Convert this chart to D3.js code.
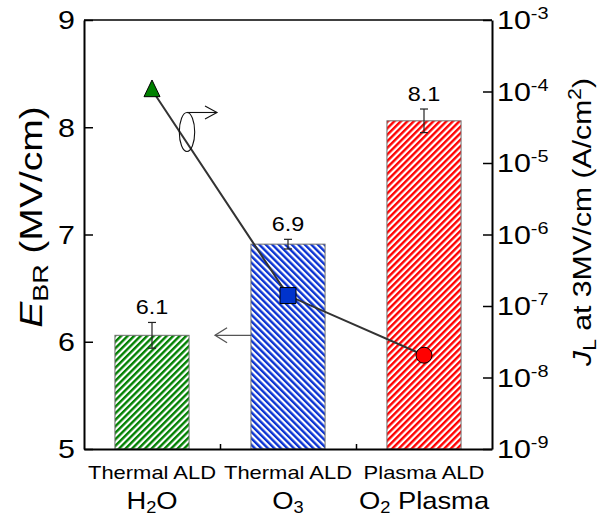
<!DOCTYPE html>
<html><head><meta charset="utf-8">
<script src="https://cdn.jsdelivr.net/npm/d3@7"></script>
<style>
body{margin:0;background:#fff}
svg{display:block}
text{font-family:"Liberation Sans",Arial,sans-serif;fill:#000}
</style>
</head><body>
<svg id="chart" width="601" height="518"></svg>
<script>
// Deposition method / precursor for each sample
const methods = ["Thermal ALD", "Thermal ALD", "Plasma ALD"];
const precursors = [["H", "2", "O"], ["O", "3", ""], ["O", "2", " Plasma"]];
// Breakdown field E_BR (MV/cm) with error
const breakdownField = [6.06, 6.91, 8.06];
const breakdownErr = [0.12, 0.045, 0.11];
// Leakage current density J_L at 3 MV/cm (A/cm^2)
const leakage = [1.05e-4, 1.4e-7, 2.05e-8];
// Axis ticks
const leftTicks = [5, 6, 7, 8, 9];
const rightExps = [-9, -8, -7, -6, -5, -4, -3];

const barColors = ["#008000", "#0a32d2", "#ff0000"];
const hatchAngles = [45, -45, 45];
const markerFills = ["#008000", "#0033cc", "#ff0000"];

const svg = d3.select("#chart");
const frame = {left: 84, right: 492, top: 20, bottom: 449};
const SX = 1.17; // horizontal glyph stretch used by the lettering

const x = d3.scaleBand().domain(d3.range(methods.length)).range([frame.left, frame.right]);
const xEdge = d3.scaleLinear().domain([0, methods.length]).range([frame.left, frame.right]);
const yL = d3.scaleLinear().domain([5, 9]).range([frame.bottom, frame.top]);
const yR = d3.scaleLog().domain([1e-9, 1e-3]).range([frame.bottom, frame.top]);
const cx = i => x(i) + x.bandwidth() / 2;

function label(parent, px, py, size, anchor, rot = 0, sx = SX) {
  return parent.append("text")
    .attr("transform", `translate(${px},${py}) rotate(${rot}) scale(${sx},1)`)
    .attr("text-anchor", anchor)
    .attr("font-size", size);
}

// hatch fills
const defs = svg.append("defs");
barColors.forEach((c, i) => {
  const p = defs.append("pattern").attr("id", "hatch" + i)
    .attr("patternUnits", "userSpaceOnUse").attr("width", 4.6).attr("height", 4.6)
    .attr("patternTransform", `rotate(${hatchAngles[i]})`);
  p.append("rect").attr("width", 4.6).attr("height", 4.6).attr("fill", "#fff");
  p.append("rect").attr("width", 2.4).attr("height", 4.6).attr("fill", c);
});

// bars
const barW = x.bandwidth() * 0.545;
svg.append("g").selectAll("rect").data(breakdownField).join("rect")
  .attr("x", (d, i) => cx(i) - barW / 2)
  .attr("y", d => yL(d))
  .attr("width", barW)
  .attr("height", d => yL(5) - yL(d))
  .attr("fill", (d, i) => `url(#hatch${i})`)
  .attr("stroke", "#6e6e6e").attr("stroke-width", 1);

// error bars
const eb = svg.append("g").attr("stroke", "#222").attr("stroke-width", 1.2);
breakdownField.forEach((v, i) => {
  const t = yL(v + breakdownErr[i]), b = yL(v - breakdownErr[i]);
  eb.append("line").attr("x1", cx(i)).attr("x2", cx(i)).attr("y1", t).attr("y2", b);
  eb.append("line").attr("x1", cx(i) - 4).attr("x2", cx(i) + 4).attr("y1", t).attr("y2", t);
  eb.append("line").attr("x1", cx(i) - 4).attr("x2", cx(i) + 4).attr("y1", b).attr("y2", b);
});

// value labels
const fmt = d3.format(".1f");
breakdownField.forEach((v, i) => {
  label(svg, cx(i), yL(v + breakdownErr[i]) - 8, 20, "middle").text(fmt(v));
});

// leakage line + markers
svg.append("path").datum(leakage)
  .attr("d", d3.line().x((d, i) => cx(i)).y(d => yR(d)))
  .attr("fill", "none").attr("stroke", "#333").attr("stroke-width", 2);
const mk = svg.append("g").attr("stroke", "#000").attr("stroke-width", 1);
mk.append("path").attr("transform", `translate(${cx(0)},${yR(leakage[0])})`)
  .attr("d", "M0,-10L8,6.7L-8,6.7Z").attr("fill", markerFills[0]);
mk.append("path").attr("transform", `translate(${cx(1)},${yR(leakage[1])})`)
  .attr("d", d3.symbol(d3.symbolSquare, 256)()).attr("fill", markerFills[1]);
mk.append("circle").attr("cx", cx(2)).attr("cy", yR(leakage[2])).attr("r", 8)
  .attr("fill", markerFills[2]);

// annotation: arrow toward the left axis (bars)
const ay = yL(breakdownField[0]);
const ax0 = x(1) + (x.bandwidth() - barW) / 2, ax1 = cx(0) + barW / 2 + 26;
const ann = svg.append("g").attr("fill", "none").attr("stroke", "#555").attr("stroke-width", 1.3);
ann.append("line").attr("x1", ax0).attr("x2", ax1).attr("y1", ay).attr("y2", ay);
ann.append("path").attr("d", `M${ax1 + 12},${ay - 7.5}L${ax1},${ay}L${ax1 + 12},${ay + 7.5}`);

// annotation: ellipse on the line with arrow toward the right axis
const ex = cx(0) + 35, ey = yR(leakage[0]) + 42;
const ann2 = svg.append("g").attr("fill", "none").attr("stroke", "#111").attr("stroke-width", 1.1);
ann2.append("ellipse").attr("cx", ex).attr("cy", ey).attr("rx", 7.7).attr("ry", 19.5);
ann2.append("line").attr("x1", ex).attr("x2", ex + 30).attr("y1", ey - 19.5).attr("y2", ey - 19.5);
ann2.append("path").attr("d", `M${ex + 18},${ey - 26}L${ex + 30},${ey - 19.5}L${ex + 18},${ey - 13}`);

// left axis (ticks inward)
const gL = svg.append("g").attr("transform", `translate(${frame.left},0)`);
gL.call(d3.axisLeft(yL).tickValues(d3.range(5, 9.001, 0.2)).tickSize(-6).tickSizeOuter(0).tickFormat(""));
gL.call(d3.axisLeft(yL).tickValues(leftTicks).tickSize(-9).tickSizeOuter(0).tickFormat(""));
gL.selectAll("path.domain").attr("stroke-width", 2);
gL.selectAll(".tick line").attr("stroke-width", 1.5);
leftTicks.forEach(v => label(svg, frame.left - 9, yL(v) + 9.3, 26, "end").text(v));

// right axis (log, ticks inward)
const gR = svg.append("g").attr("transform", `translate(${frame.right},0)`);
const minor = [];
rightExps.slice(0, -1).forEach(e => { for (let k = 2; k <= 9; k++) minor.push(k * Math.pow(10, e)); });
gR.call(d3.axisRight(yR).tickValues(minor).tickSize(-5).tickSizeOuter(0).tickFormat(""));
gR.call(d3.axisRight(yR).tickValues(rightExps.map(e => Math.pow(10, e))).tickSize(-9).tickSizeOuter(0).tickFormat(""));
gR.selectAll("path.domain").attr("stroke-width", 2);
gR.selectAll(".tick line").attr("stroke-width", 1.5);
rightExps.forEach(e => {
  const t = label(svg, frame.right + 5, yR(Math.pow(10, e)) + 9.3, 26, "start");
  t.append("tspan").text("10");
  t.append("tspan").attr("font-size", 17).attr("dy", -10).text(e);
});

// bottom axis: ticks between categories
const gB = svg.append("g").attr("transform", `translate(0,${frame.bottom})`);
gB.call(d3.axisBottom(xEdge).tickValues(d3.range(1, methods.length)).tickSize(-5).tickSizeOuter(0).tickFormat(""));
gB.selectAll("path.domain").attr("stroke-width", 2);
gB.selectAll(".tick line").attr("stroke-width", 1.5);

// top frame
svg.append("line").attr("x1", frame.left).attr("x2", frame.right)
  .attr("y1", frame.top).attr("y2", frame.top).attr("stroke", "#000").attr("stroke-width", 1.5);

// category labels
methods.forEach((mtd, i) => label(svg, cx(i), 479, 18, "middle", 0, 1.22).text(mtd));
precursors.forEach((p, i) => {
  const t = label(svg, cx(i), 509, 24, "middle", 0, 1.14);
  t.append("tspan").text(p[0]);
  t.append("tspan").attr("font-size", 16).attr("dy", 4).text(p[1]);
  t.append("tspan").attr("dy", -4).text(p[2]);
});

// axis titles
const tl = label(svg, 42, 217, 32, "middle", -90, 1.22);
tl.append("tspan").attr("font-style", "italic").text("E");
tl.append("tspan").attr("font-size", 22).attr("dy", 6).text("BR");
tl.append("tspan").attr("dy", -6).text(" (MV/cm)");

const tr = label(svg, 591, 222, 26, "middle", -90, 1.16);
tr.append("tspan").attr("font-style", "italic").text("J");
tr.append("tspan").attr("font-size", 18).attr("dy", 5).text("L");
tr.append("tspan").attr("dy", -5).text(" at 3MV/cm (A/cm");
tr.append("tspan").attr("font-size", 18).attr("dy", -10).text("2");
tr.append("tspan").attr("dy", 10).text(")");
</script>
</body></html>
